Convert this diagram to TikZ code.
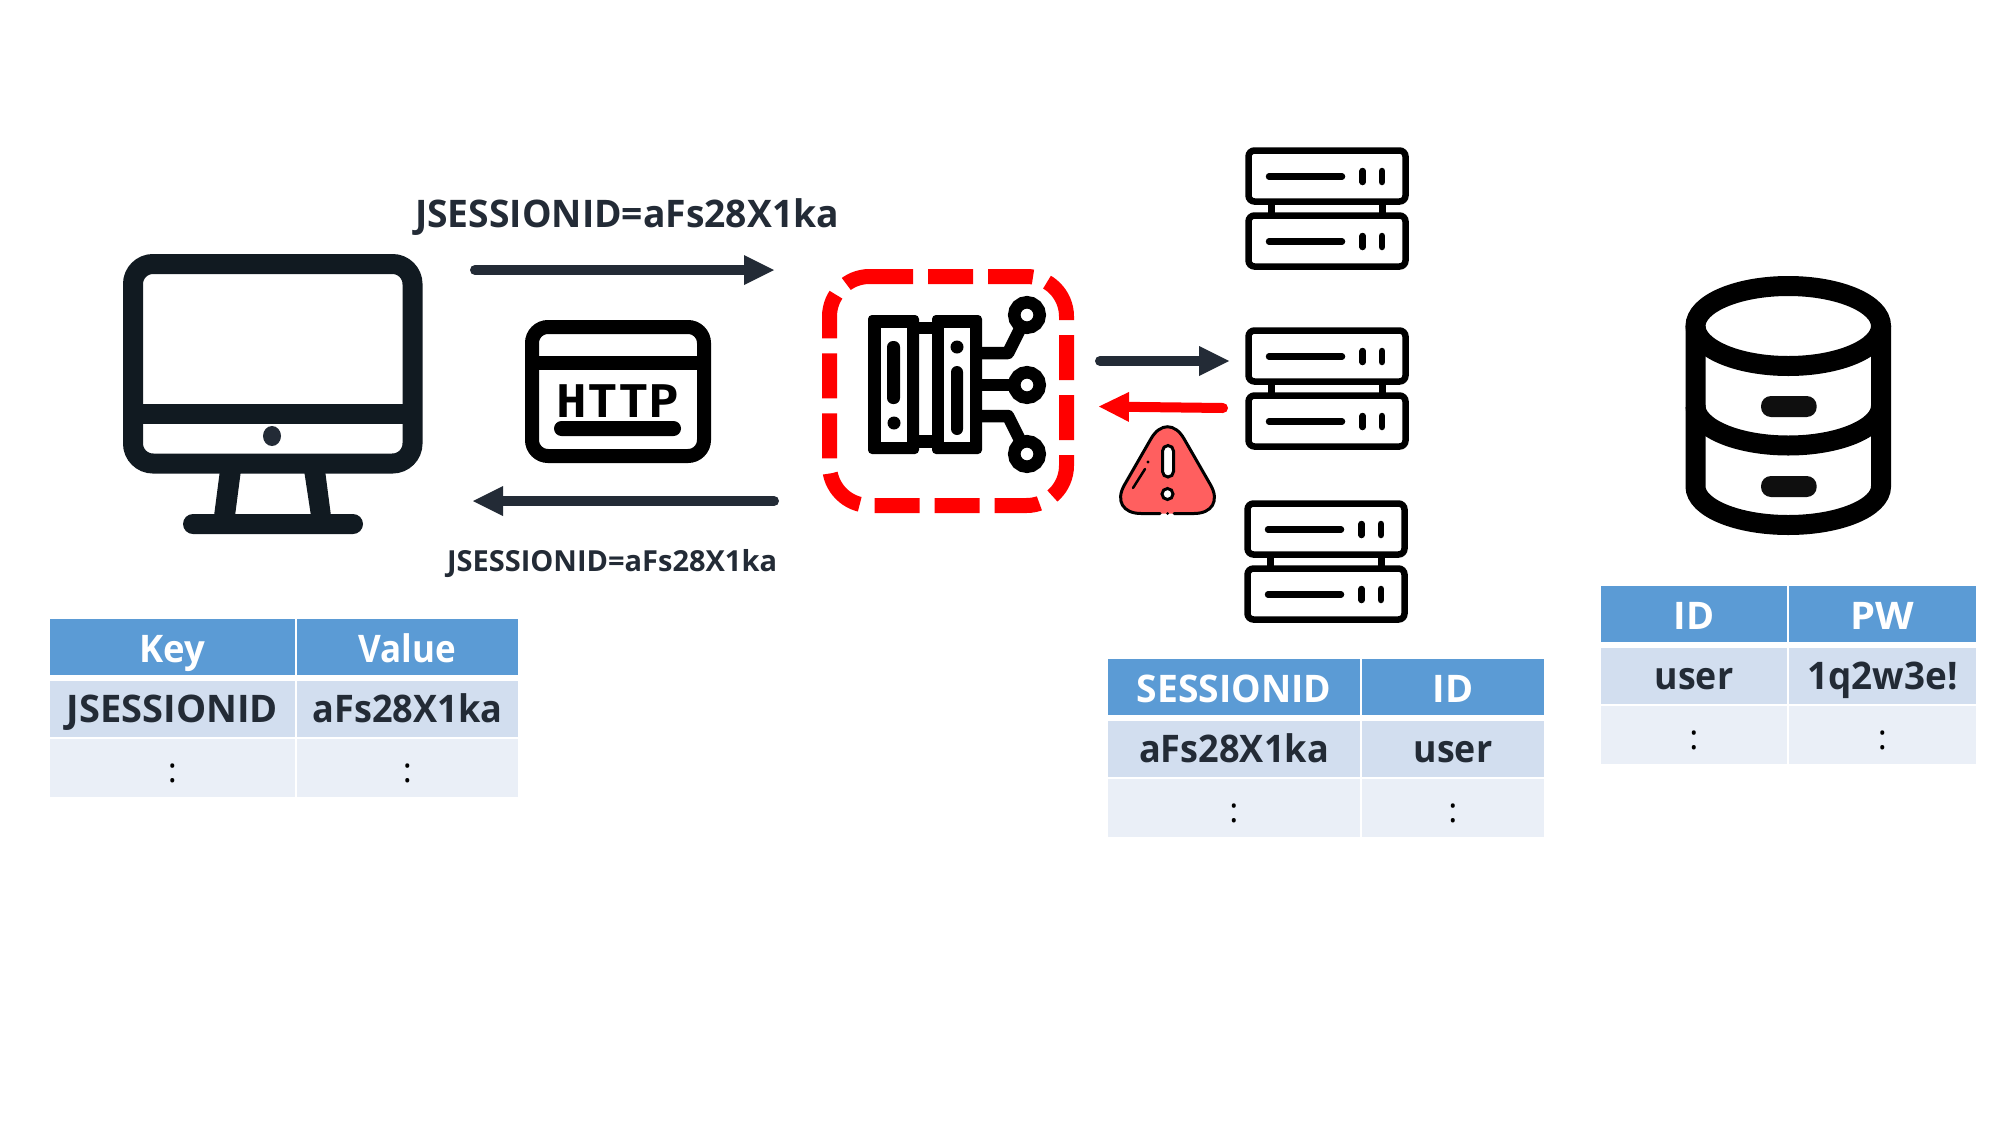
\documentclass[tikz,border=0pt]{standalone}
\usepackage{fontspec}
\setmainfont{Open Sans}
\newfontfamily\httpfont{DejaVu Sans Mono}
\usetikzlibrary{arrows.meta}
\definecolor{ink}{HTML}{232B36}
\definecolor{monitorink}{HTML}{111A21}
\definecolor{headblue}{HTML}{5B9BD5}
\definecolor{rowa}{HTML}{D2DEEF}
\definecolor{rowb}{HTML}{EAEFF7}
\definecolor{warnfill}{HTML}{FF5F5F}
\newcommand{\sx}[2]{\scalebox{#1}[1]{#2}}
\tikzset{
  conn/.style={line width=10pt,line cap=round,-{Triangle[length=30pt,width=30pt,line width=0pt]}},
  heavy/.style={line width=12.5pt,black,line join=round},
  srv/.style={line width=6.5pt,black,rounded corners=6pt},
  srvmark/.style={line width=6.5pt,black,line cap=round},
  dbline/.style={line width=20pt,black},
  warn/.style={line width=3pt,black,line cap=round},
  headtext/.style={anchor=base,text=white,font=\fontsize{38}{38}\selectfont\bfseries,inner sep=0pt},
  celltext/.style={anchor=base,text=ink,font=\fontsize{38}{38}\selectfont\bfseries,inner sep=0pt},
  dotstext/.style={anchor=base,text=black,font=\fontsize{34}{34}\selectfont,inner sep=0pt},
  flowtext/.style={anchor=base,text=ink,inner sep=0pt}
}
% #1 name, #2 x0, #3 split, #4 x1, #5 y0, #6-#9 texts
\newcommand{\datatable}[9]{%
  \pgfmathsetmacro{\cola}{(#2+#3-1)/2}
  \pgfmathsetmacro{\colb}{(#3+1+#4)/2}
  \foreach \ya/\yb/\cc in {0/56/headblue,62/118/rowa,120/178/rowb}{
    \fill[\cc] (#2,#5+\ya) rectangle (#3-1,#5+\yb);
    \fill[\cc] (#3+1,#5+\ya) rectangle (#4,#5+\yb);
  }
  \node[headtext] (#1ha) at (\cola,#5+43) {#6};
  \node[headtext] (#1hb) at (\colb,#5+43) {#7};
  \node[celltext] (#1ca) at (\cola,#5+103) {#8};
  \node[celltext] (#1cb) at (\colb,#5+103) {#9};
  \node[dotstext] (#1da) at (\cola,#5+163) {:};
  \node[dotstext] (#1db) at (\colb,#5+163) {:};
}
\begin{document}
\begin{tikzpicture}[x=1pt,y=-1pt]
\useasboundingbox (0,0) rectangle (2000,1125);
\fill[white] (0,0) rectangle (2000,1125);

% monitor
\draw[line width=20pt,monitorink,rounded corners=20pt] (133,264) rectangle (412.5,463.5);
\fill[monitorink] (123,404) rectangle (422,424);
\fill[ink] (272,436) ellipse [x radius=9pt,y radius=10pt];
\fill[monitorink] (220,470) -- (241,470) -- (235,516) -- (214,516) -- cycle;
\fill[monitorink] (304,470) -- (325,470) -- (331,516) -- (311,516) -- cycle;
\fill[monitorink,rounded corners=10pt] (183,514) rectangle (363,534);

% HTTP window
\draw[line width=14pt,black,rounded corners=16pt] (532,327) rectangle (704,456);
\fill[black] (525,356) rectangle (711,370);
\node[inner sep=0pt,anchor=base] (httpword) at (618,417) {\httpfont\bfseries\fontsize{45}{45}\selectfont\scalebox{1.13}[1]{HTTP}};
\fill[black,rounded corners=7.5pt] (554,421) rectangle (681,436);

% flow labels and arrows
\node[flowtext,font=\fontsize{38}{38}\selectfont\bfseries] (reqlabel) at (627,227) {\sx{.98}{JSESSIONID=aFs28X1ka}};
\node[flowtext,font=\fontsize{29}{29}\selectfont\bfseries] (resplabel) at (612,571) {JSESSIONID=aFs28X1ka};
\coordinate (reqa) at (475,270);
\coordinate (reqb) at (774,270);
\coordinate (respa) at (774,501);
\coordinate (respb) at (473,501);
\coordinate (fwda) at (1100,361);
\coordinate (fwdb) at (1229,361);
\coordinate (backa) at (1223,408);
\coordinate (backb) at (1099,406.5);
\draw[conn,ink] (reqa) -- (reqb);
\draw[conn,ink] (respa) -- (respb);
\draw[conn,ink] (fwda) -- (fwdb);
\draw[conn,red] (backa) -- (backb);

% dashed gateway frame
\draw[red,line width=15pt,dash pattern=on 45pt off 15pt]
  (868,276.5) -- (1026.5,276.5) arc[start angle=90,end angle=0,radius=40pt]
  -- (1066.5,465.5) arc[start angle=0,end angle=-90,radius=40pt]
  -- (869.5,505.5) arc[start angle=270,end angle=180,radius=40pt]
  -- (829.5,316.5) arc[start angle=180,end angle=90,radius=40pt] -- (868,276.5);

% gateway icon
\fill[black,rounded corners=4pt] (868,315) rectangle (919,454);
\fill[black,rounded corners=4pt] (932,315) rectangle (982,454);
\fill[black] (919,322) rectangle (932,334);
\fill[black] (919,435) rectangle (932,448);
\fill[white] (881,328) rectangle (907,442);
\fill[white] (944,328) rectangle (970,442);
\fill[black,rounded corners=6pt] (887,341) rectangle (900,404);
\fill[black] (894,423) circle [radius=6.5pt];
\fill[black] (957,347) circle [radius=6.5pt];
\fill[black,rounded corners=6pt] (951,366) rectangle (963,435);
\draw[heavy] (978,353) -- (1008,353) -- (1027,315);
\draw[heavy] (978,385) -- (1027,385);
\draw[heavy] (978,416) -- (1008,416) -- (1027,454);
\foreach \cy in {315,385,454}{
  \filldraw[line width=12.5pt,draw=black,fill=white] (1027,\cy) circle [radius=12.75pt];
}

% warning triangle
\fill[warnfill,rounded corners=33pt] (1167.5,410) -- (1227,513.5) -- (1108,513.5) -- cycle;
\draw[warn,rounded corners=33pt] (1174,513.5) -- (1227,513.5) -- (1167.5,410) -- (1108,513.5) -- (1160,513.5);
\fill[black] (1167.5,513.5) circle [radius=1.5pt];
\filldraw[line width=3pt,draw=black,fill=white,rounded corners=5.5pt] (1162.5,445.5) rectangle (1173.5,477);
\filldraw[line width=3pt,draw=black,fill=white] (1167.5,494) circle [radius=5.5pt];
\draw[warn,line width=2.5pt] (1145,469) -- (1133,488);
\fill[black] (1148,462) circle [radius=1.6pt];

% server stacks
\foreach \dx/\dy in {0/0,0/180,-1/353}{
  \begin{scope}[shift={(\dx,\dy)}]
    \draw[srv] (1248.5,150.5) rectangle (1405.5,201.5);
    \draw[srv] (1248.5,215.5) rectangle (1405.5,266.5);
    \draw[line width=6.5pt,black] (1271.5,203) -- (1271.5,214);
    \draw[line width=6.5pt,black] (1382.5,203) -- (1382.5,214);
    \foreach \oy in {0,65}{
      \draw[srvmark] (1269,176.5+\oy) -- (1342,176.5+\oy);
      \draw[srvmark] (1362.7,171+\oy) -- (1362.7,182+\oy);
      \draw[srvmark] (1382,171+\oy) -- (1382,182+\oy);
    }
  \end{scope}
}

% database
\draw[dbline] (1695.5,326) -- (1695.5,486.5) arc[start angle=180,end angle=360,x radius=92.75pt,y radius=38.5pt] -- (1881,326);
\draw[dbline] (1695.5,406) arc[start angle=180,end angle=360,x radius=92.75pt,y radius=39.5pt];
\draw[dbline] (1788.25,326) ellipse [x radius=92.75pt,y radius=40pt];
\fill[black!94,rounded corners=10pt] (1761,396) rectangle (1816.7,417);
\fill[black!94,rounded corners=10pt] (1761,476) rectangle (1816.7,497);

% tables
\datatable{ta}{50}{296}{518}{619}{\sx{.96}{Key}}{\sx{.92}{Value}}{JSESSIONID}{\sx{.95}{aFs28X1ka}}
\datatable{tb}{1108}{1361}{1544}{659}{\sx{.98}{SESSIONID}}{ID}{\sx{.95}{aFs28X1ka}}{\sx{.94}{user}}
\datatable{tc}{1601}{1788}{1976}{586}{ID}{\sx{1.05}{PW}}{\sx{.94}{user}}{\sx{.97}{1q2w3e!}}
\end{tikzpicture}
\end{document}
